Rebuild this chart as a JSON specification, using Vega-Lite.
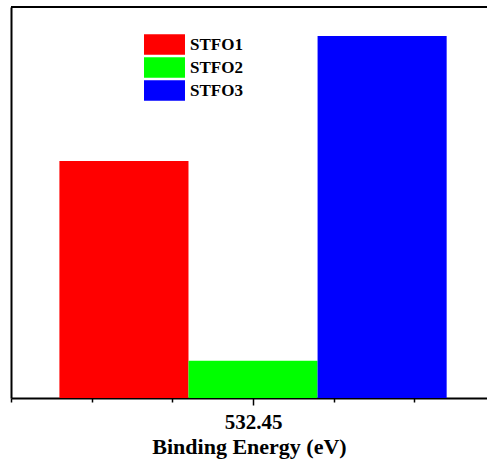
{
  "$schema": "https://vega.github.io/schema/vega-lite/v6.json",
  "width": 476,
  "height": 391,
  "autosize": {"type": "none"},
  "padding": {"left": 11, "top": 7, "right": 0, "bottom": 63},
  "background": "white",
  "config": {"view": {"stroke": null}, "font": "Liberation Serif"},
  "data": {
    "values": [
      {"sample": "STFO1", "start": 0.6, "end": 2.2, "intensity": 60.6},
      {"sample": "STFO2", "start": 2.2, "end": 3.8, "intensity": 9.5},
      {"sample": "STFO3", "start": 3.8, "end": 5.4, "intensity": 92.6}
    ]
  },
  "layer": [
    {
      "mark": {"type": "bar"},
      "encoding": {
        "x": {
          "field": "start",
          "type": "quantitative",
          "scale": {"domain": [0, 5.9], "nice": false, "zero": false},
          "axis": {
            "title": "Binding Energy (eV)",
            "titleFont": "Liberation Serif",
            "titleFontWeight": "bold",
            "titleFontSize": 22,
            "titleColor": "black",
            "titlePadding": 4,
            "values": [0, 1, 2, 3, 4, 5],
            "labelExpr": "datum.value == 3 ? '532.45' : ''",
            "labelFont": "Liberation Serif",
            "labelFontWeight": "bold",
            "labelFontSize": 21,
            "labelColor": "black",
            "labelPadding": 6,
            "grid": false,
            "domainColor": "black",
            "domainWidth": 2,
            "tickColor": "black",
            "tickWidth": 1.5,
            "tickSize": {"condition": {"test": "datum.value == 3", "value": 7}, "value": 4}
          }
        },
        "x2": {"field": "end"},
        "y": {
          "field": "intensity",
          "type": "quantitative",
          "scale": {"domain": [0, 100], "nice": false},
          "axis": {"title": null, "labels": false, "ticks": false, "grid": false, "domainColor": "black", "domainWidth": 2}
        },
        "y2": {"datum": 0},
        "color": {
          "field": "sample",
          "type": "nominal",
          "scale": {"domain": ["STFO1", "STFO2", "STFO3"], "range": ["#FF0000", "#00FF00", "#0000FF"]},
          "legend": {
            "orient": "none",
            "legendX": 143,
            "legendY": 27,
            "title": null,
            "padding": 0,
            "symbolType": "M-2,-1H2V1H-2Z",
            "symbolSize": 420,
            "symbolStrokeWidth": 0,
            "symbolOpacity": 1,
            "labelFont": "Liberation Serif",
            "labelFontWeight": "bold",
            "labelFontSize": 17,
            "labelColor": "black",
            "labelOffset": 15,
            "rowPadding": 2
          }
        }
      }
    },
    {
      "mark": {"type": "rule", "color": "black", "strokeWidth": 2},
      "encoding": {"y": {"datum": 100}}
    }
  ]
}
